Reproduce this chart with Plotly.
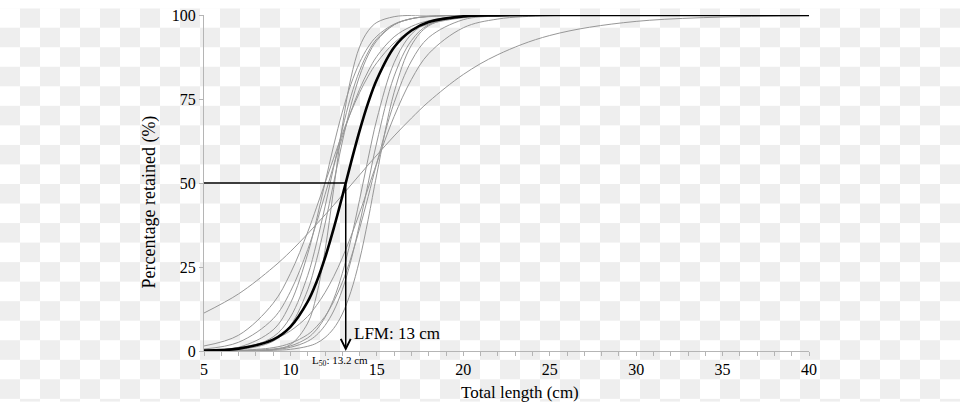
import base64
import plotly.graph_objects as go

lengths = [5, 7, 9, 10, 11, 11.5, 12, 12.5, 13, 13.5, 14, 14.5, 15, 16, 17, 18, 20, 22, 25, 30, 40]

# overall (mean) curve - thick black line
mean_curve = [0.1, 0.7, 3.4, 7.2, 14.7, 20.4, 27.7, 36.4, 46.0, 56.0, 65.5, 73.9, 80.8, 90.4, 95.4, 97.9, 99.6, 99.9, 100, 100, 100]

# individual curves - thin grey lines
sel_01 = [11.3, 17.0, 24.9, 29.6, 34.9, 37.7, 40.5, 43.4, 46.4, 49.4, 52.4, 55.4, 58.3, 64.0, 69.3, 74.2, 82.3, 88.2, 93.9, 98.1, 99.8]
sel_02 = [0, 0, 0.4, 1.9, 8.3, 16.4, 29.9, 48.1, 66.8, 81.3, 90.5, 95.3, 97.8, 99.5, 99.9, 100, 100, 100, 100, 100, 100]
sel_03 = [0.2, 1.1, 6.3, 14.2, 28.9, 38.9, 50.0, 61.1, 71.1, 79.4, 85.8, 90.5, 93.7, 97.3, 98.9, 99.5, 99.9, 100, 100, 100, 100]
sel_04 = [0.1, 0.6, 4.2, 10.1, 22.5, 31.9, 42.9, 54.7, 66.0, 75.8, 83.4, 89.0, 92.9, 97.1, 98.9, 99.6, 99.9, 100, 100, 100, 100]
sel_05 = [0.1, 0.4, 2.9, 7.6, 18.2, 26.9, 37.8, 50.0, 62.2, 73.1, 81.8, 88.1, 92.4, 97.1, 98.9, 99.6, 99.9, 100, 100, 100, 100]
sel_06 = [1.5, 4.7, 14.2, 23.1, 35.4, 42.6, 50.0, 57.4, 64.6, 71.1, 76.9, 81.8, 85.8, 91.7, 95.3, 97.3, 99.2, 99.8, 100, 100, 100]
sel_07 = [0.6, 2.6, 9.6, 17.7, 30.2, 38.0, 46.5, 55.2, 63.6, 71.3, 77.9, 83.3, 87.7, 93.5, 96.6, 98.3, 99.6, 99.9, 100, 100, 100]
sel_08 = [0, 0.1, 0.6, 1.5, 3.9, 6.3, 10.0, 15.4, 23.1, 33.2, 45.0, 57.4, 69.0, 85.8, 94.3, 97.8, 99.7, 100, 100, 100, 100]
sel_09 = [0, 0.1, 0.4, 1.1, 2.9, 4.7, 7.6, 11.9, 18.2, 26.9, 37.8, 50.0, 62.2, 81.8, 92.4, 97.1, 99.6, 99.9, 100, 100, 100]
sel_10 = [0, 0.2, 1.0, 2.3, 4.9, 7.2, 10.3, 14.7, 20.4, 27.7, 36.4, 46.0, 56.0, 73.9, 86.3, 93.3, 98.6, 99.7, 100, 100, 100]
sel_11 = [0, 0, 0.2, 0.5, 1.4, 2.3, 4.0, 6.7, 11.0, 17.7, 27.1, 39.2, 52.7, 77.0, 91.0, 96.8, 99.6, 100, 100, 100, 100]
sel_12 = [0.3, 1.0, 3.4, 6.0, 10.3, 13.5, 17.4, 22.1, 27.7, 34.1, 41.1, 48.5, 56.0, 69.8, 80.8, 88.5, 96.2, 98.8, 99.8, 100, 100]
grey_curves = [sel_01, sel_02, sel_03, sel_04, sel_05, sel_06, sel_07, sel_08, sel_09, sel_10, sel_11, sel_12]

l50 = 13.2
lfm = 13
y_ticks = [0, 25, 50, 75, 100]

serif = "Liberation Serif, Times New Roman, serif"
W, H = 960, 403
L, R, T, B = 204, 151, 7, 52
pw, ph = W - L - R, H - T - B

fig = go.Figure()

for c in grey_curves:
    fig.add_trace(go.Scatter(x=lengths, y=c, mode="lines", line=dict(color="#979797", width=1, shape="spline"),
                             hoverinfo="skip", cliponaxis=False))

fig.add_trace(go.Scatter(x=lengths, y=mean_curve, mode="lines", line=dict(color="black", width=2.6, shape="spline"),
                         hoverinfo="skip", cliponaxis=False))

# L50 reference line at 50 %
fig.add_trace(go.Scatter(x=[lengths[0], l50], y=[50, 50], mode="lines", line=dict(color="black", width=1.5),
                         hoverinfo="skip", cliponaxis=False))

# arrow down to the x axis
fig.add_annotation(x=l50, y=0, ax=l50, ay=50, xref="x", yref="y", axref="x", ayref="y",
                   showarrow=True, arrowhead=5, arrowsize=1.3, arrowwidth=1.5, arrowcolor="black", text="")

fig.add_annotation(x=13.55, y=5.3, xref="x", yref="y", text="LFM: %d cm" % lfm, showarrow=False,
                   xanchor="left", yanchor="middle", font=dict(family=serif, size=17, color="black"))
# L50 label sits just under the x axis line
fig.add_annotation(x=12.87, y=-(361 - (T + ph)) / ph, xref="x", yref="paper", text="L<sub>50</sub>: %.1f cm" % l50,
                   showarrow=False, xanchor="center", yanchor="middle", font=dict(family=serif, size=11, color="black"))

# axis titles
fig.add_annotation(x=(520 - L) / pw, y=-(393 - (T + ph)) / ph, xref="paper", yref="paper", text="Total length (cm)",
                   showarrow=False, xanchor="center", yanchor="middle", font=dict(family=serif, size=17, color="black"))
fig.add_annotation(x=(150 - L) / pw, y=((T + ph) - 199) / ph, xref="paper", yref="paper", text="Percentage retained (%)",
                   textangle=-90, showarrow=False, xanchor="center", yanchor="middle",
                   font=dict(family=serif, size=18, color="black"))

# checkerboard backdrop
svg = ("<svg xmlns='http://www.w3.org/2000/svg' width='%d' height='%d'><defs>"
       "<pattern id='p' width='40' height='40' patternUnits='userSpaceOnUse'>"
       "<rect width='40' height='40' fill='#ffffff'/><rect x='20' width='20' height='20' fill='#eeeeee'/>"
       "<rect y='20' width='20' height='20' fill='#eeeeee'/></pattern></defs>"
       "<rect width='%d' height='%d' fill='url(#p)'/></svg>") % (W, H, W, H)
src = "data:image/svg+xml;base64," + base64.b64encode(svg.encode()).decode()
fig.add_layout_image(source=src, xref="paper", yref="paper", x=-L / pw, y=1 + T / ph, sizex=W / pw, sizey=H / ph,
                     xanchor="left", yanchor="top", sizing="stretch", layer="below")

fig.update_layout(
    width=W, height=H,
    margin=dict(l=L, r=R, t=T, b=B),
    paper_bgcolor="white", plot_bgcolor="rgba(0,0,0,0)",
    showlegend=False,
    font=dict(family=serif, size=16, color="black"),
)
fig.update_xaxes(range=[5, 40], tick0=5, dtick=5, showgrid=False, zeroline=False,
                 showline=True, linecolor="#b5b5b5", linewidth=1,
                 ticks="outside", ticklen=4, tickcolor="#b5b5b5", ticklabeloverflow="allow",
                 minor=dict(dtick=1, ticks="outside", ticklen=4, tickcolor="#b5b5b5", showgrid=False),
                 tickfont=dict(family=serif, size=16, color="black"))
fig.update_yaxes(range=[0, 100], tickvals=y_ticks, showgrid=False, zeroline=False,
                 showline=True, linecolor="#b5b5b5", linewidth=1,
                 ticks="outside", ticklen=4, tickcolor="#b5b5b5", ticklabeloverflow="allow",
                 tickfont=dict(family=serif, size=16, color="black"))

# no page margin so the figure sits at the top-left corner of the window
fig.write_html("out.html", config={"displayModeBar": False},
               post_script="document.body.style.margin='0';document.body.style.overflow='hidden';")
